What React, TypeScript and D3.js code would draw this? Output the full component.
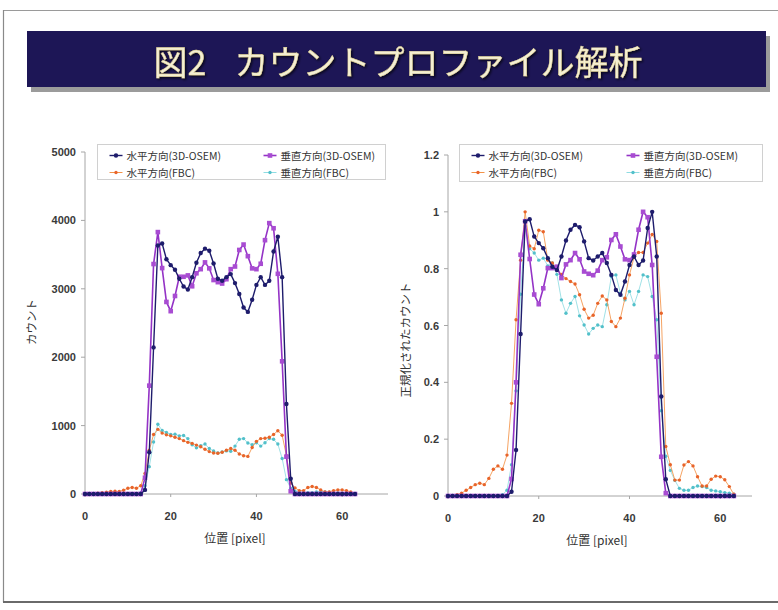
import React from 'react';
import * as d3 from 'd3';

// ---------- DATA ----------
const pixelPositions = d3.range(0, 64);
const xTickValues = [0, 20, 40, 60];
const leftYTicks = [0, 1000, 2000, 3000, 4000, 5000];
const rightYTicks = [0, 0.2, 0.4, 0.6, 0.8, 1, 1.2];
const seriesNames = ['水平方向(3D-OSEM)', '垂直方向(3D-OSEM)', '水平方向(FBC)', '垂直方向(FBC)'];
const titleText = '図2';
const titleText2 = 'カウントプロファイル解析';

// Left: counts
const leftH3D = [
  0,0,0,0,0,0,0,0,0,0,0,0,0,0,
  60,610,2143,3632,3662,3433,3346,3279,3147,3034,
  2989,3170,3380,3523,3587,3557,3369,3147,3117,3170,
  3215,3083,2925,2726,2662,2839,3057,3170,3057,3117,
  3546,3760,3170,1316,222,
  0,0,0,0,0,0,0,0,0,0,0,0,0,0,0,
];
const leftV3D = [
  0,0,0,0,0,0,0,0,0,0,0,0,0,0,
  238,1584,3362,3829,3303,2808,2673,2895,3176,3176,
  3196,3037,3227,3287,3386,3299,3128,3097,3077,3140,
  3287,3326,3568,3647,3477,3299,3287,3366,3711,3960,
  3885,3219,1940,546,40,
  0,0,0,0,0,0,0,0,0,0,0,0,0,0,0,
];
const leftHFBC = [
  0,0,5,10,18,27,36,40,36,55,
  85,95,85,120,300,640,870,945,890,865,
  850,830,810,780,755,740,715,690,655,620,
  600,595,610,640,665,640,585,560,550,680,
  770,810,815,830,870,925,860,560,160,90,
  50,50,95,110,95,60,30,30,50,60,
  60,50,30,5,
];
const leftVFBC = [
  0,0,0,0,0,0,0,0,0,0,
  0,0,5,20,120,400,760,1020,930,900,
  870,875,850,855,810,720,675,705,730,665,
  630,600,615,630,625,700,800,810,745,720,
  750,700,750,810,800,730,520,210,85,40,
  30,25,20,20,30,35,30,25,20,15,
  12,10,8,5,
];

// Right: normalized counts
const rightH3D = [
  0,0,0,0,0,0,0,0,0,0,0,0,0,0,
  0.015,0.162,0.57,0.966,0.974,0.913,0.89,0.872,0.837,0.807,
  0.795,0.843,0.899,0.937,0.954,0.946,0.896,0.837,0.829,0.843,
  0.855,0.82,0.778,0.725,0.708,0.755,0.813,0.843,0.813,0.829,
  0.943,1.0,0.843,0.35,0.059,
  0,0,0,0,0,0,0,0,0,0,0,0,0,0,0,
];
const rightV3D = [
  0,0,0,0,0,0,0,0,0,0,0,0,0,0,
  0.06,0.40,0.849,0.967,0.834,0.709,0.675,0.731,0.802,0.802,
  0.807,0.767,0.815,0.83,0.855,0.833,0.79,0.782,0.777,0.793,
  0.83,0.84,0.901,0.921,0.878,0.833,0.83,0.85,0.937,1.0,
  0.981,0.813,0.49,0.138,0.01,
  0,0,0,0,0,0,0,0,0,0,0,0,0,0,0,
];
const rightHFBC = [
  0,0,0.005,0.01,0.02,0.03,0.04,0.045,0.04,0.062,
  0.094,0.106,0.094,0.144,0.326,0.62,0.83,1.0,0.88,0.87,
  0.935,0.93,0.83,0.82,0.80,0.78,0.765,0.755,0.746,0.708,
  0.657,0.626,0.636,0.678,0.704,0.69,0.614,0.596,0.626,0.696,
  0.778,0.84,0.857,0.857,0.89,0.92,0.896,0.643,0.174,0.11,
  0.056,0.056,0.109,0.121,0.106,0.068,0.035,0.035,0.059,0.07,
  0.068,0.057,0.033,0.006,
];
const rightVFBC = [
  0,0,0,0,0,0,0,0,0,0,
  0,0,0.005,0.02,0.11,0.37,0.71,0.95,0.87,0.855,
  0.83,0.837,0.81,0.82,0.78,0.69,0.643,0.678,0.702,0.634,
  0.602,0.57,0.59,0.602,0.596,0.673,0.772,0.778,0.714,0.69,
  0.72,0.673,0.72,0.778,0.772,0.702,0.62,0.3,0.14,0.09,
  0.055,0.027,0.02,0.02,0.03,0.035,0.033,0.03,0.02,0.018,
  0.015,0.012,0.01,0.006,
];

// ---------- STYLES ----------
const seriesStyles = [
  { line: '#1e1c6c', fill: '#1e1c6c', marker: 'circle', size: 2.2, width: 1.4, opacity: 1 },
  { line: '#9433c6', fill: '#a84cd2', marker: 'square', size: 4.6, width: 1.6, opacity: 1 },
  { line: '#f39348', fill: '#e8642a', marker: 'circle', size: 1.7, width: 1.0, opacity: 0.85 },
  { line: '#8fdce2', fill: '#52c0ca', marker: 'circle', size: 1.7, width: 1.0, opacity: 0.85 },
];
const drawOrder = [3, 2, 1, 0];
const FONT = "'Liberation Sans', Arial, sans-serif";
const JFONT = "'Noto Sans CJK JP', 'Noto Sans', sans-serif";

function Marker({ cx, cy, s }: { cx: number; cy: number; s: any }) {
  if (s.marker === 'square') {
    return <rect x={cx - s.size / 2} y={cy - s.size / 2} width={s.size} height={s.size} fill={s.fill} />;
  }
  return <circle cx={cx} cy={cy} r={s.size} fill={s.fill} />;
}

type PanelProps = {
  series: number[][];
  xRange: [number, number];
  xDomainMax: number;
  yRange: [number, number];
  yDomainMax: number;
  yTicks: number[];
  yFormat: (v: number) => string;
  xAxisEnd: number;
  yTitle: string;
  yTitleX: number;
  yTitleY: number;
  xTitleX: number;
  legend: { x: number; y: number; w: number; h: number; col2: number };
};

function Panel(p: PanelProps) {
  const x = d3.scaleLinear().domain([0, p.xDomainMax]).range(p.xRange);
  const y = d3.scaleLinear().domain([0, p.yDomainMax]).range(p.yRange);
  const x0 = p.xRange[0];
  const y0 = p.yRange[0];
  const line = d3
    .line<number>()
    .x((_, i) => x(pixelPositions[i]))
    .y((d) => y(d));
  const legendRows = [
    [0, 1],
    [2, 3],
  ];
  return (
    <g>
      <line x1={x0} x2={x0} y1={p.yRange[1]} y2={y0} stroke="#a6a6a6" strokeWidth={1} />
      <line x1={x0} x2={p.xAxisEnd} y1={y0} y2={y0} stroke="#a6a6a6" strokeWidth={1} />
      {p.yTicks.map((t) => (
        <g key={'y' + t}>
          <line x1={x0 - 4} x2={x0} y1={y(t)} y2={y(t)} stroke="#a6a6a6" />
          <text
            x={x0 - 9}
            y={y(t)}
            textAnchor="end"
            dominantBaseline="central"
            fontFamily={FONT}
            fontWeight="bold"
            fontSize={11}
            fill="#3a3a3a"
          >
            {p.yFormat(t)}
          </text>
        </g>
      ))}
      {xTickValues.map((t) => (
        <g key={'x' + t}>
          <line x1={x(t)} x2={x(t)} y1={y0} y2={y0 + 3} stroke="#a6a6a6" />
          <text
            x={x(t)}
            y={y0 + 22}
            textAnchor="middle"
            dominantBaseline="central"
            fontFamily={FONT}
            fontWeight="bold"
            fontSize={11}
            fill="#3a3a3a"
          >
            {t}
          </text>
        </g>
      ))}
      <text
        x={p.xTitleX}
        y={y0 + 43}
        textAnchor="middle"
        dominantBaseline="central"
        fontFamily={JFONT}
        fontSize={12}
        fill="#333"
      >
        位置 [pixel]
      </text>
      <text
        transform={`translate(${p.yTitleX},${p.yTitleY}) rotate(-90)`}
        textAnchor="middle"
        dominantBaseline="central"
        fontFamily={JFONT}
        fontSize={11.5}
        fill="#333"
      >
        {p.yTitle}
      </text>
      {drawOrder.map((si) => {
        const s = seriesStyles[si];
        const data = p.series[si];
        return (
          <g key={'s' + si}>
            <path d={line(data) || ''} fill="none" stroke={s.line} strokeWidth={s.width} strokeOpacity={s.opacity} />
            {data.map((v, i) => (
              <Marker key={i} cx={x(pixelPositions[i])} cy={y(v)} s={s} />
            ))}
          </g>
        );
      })}
      <rect
        x={p.legend.x}
        y={p.legend.y}
        width={p.legend.w}
        height={p.legend.h}
        fill="#fff"
        stroke="#d0d0d0"
        strokeWidth={1}
      />
      {legendRows.map((row, ri) =>
        row.map((si, ci) => {
          const s = seriesStyles[si];
          const lx = p.legend.x + 12 + ci * p.legend.col2;
          const ly = p.legend.y + 11 + ri * 17;
          return (
            <g key={'l' + si}>
              <line x1={lx} x2={lx + 13} y1={ly} y2={ly} stroke={s.line} strokeWidth={s.width} />
              <Marker cx={lx + 6.5} cy={ly} s={s} />
              <text
                x={lx + 17}
                y={ly}
                dominantBaseline="central"
                fontFamily={JFONT}
                fontSize={10.5}
                fill="#333"
              >
                {seriesNames[si]}
              </text>
            </g>
          );
        })
      )}
    </g>
  );
}

export default function App() {
  return (
    <svg
      width={778}
      height={610}
      viewBox="0 0 778 610"
      style={{ position: 'absolute', left: 0, top: 0, background: '#fff' }}
    >
      <defs>
        <filter id="titleShadow" x="-5%" y="-20%" width="110%" height="140%">
          <feDropShadow dx="1.5" dy="1.5" stdDeviation="0.8" floodColor="#000" floodOpacity="0.7" />
        </filter>
      </defs>
      <rect x={0} y={0} width={778} height={610} fill="#fff" />
      <line x1={3} x2={778} y1={10.5} y2={10.5} stroke="#9a9a9a" strokeWidth={1} />
      <line x1={3.5} x2={3.5} y1={10} y2={602} stroke="#8a8a8a" strokeWidth={1.2} />
      <line x1={3} x2={778} y1={602} y2={602} stroke="#6a6a6a" strokeWidth={2} />
      <rect x={31} y={36} width={739} height={56} fill="#9b9b9b" />
      <rect x={27} y={31} width={739} height={56} fill="#1d1656" />
      <text
        x={398}
        y={60}
        textAnchor="middle"
        dominantBaseline="central"
        fontFamily={JFONT}
        fontSize={34}
        fill="#f4efd4"
        stroke="#e8d890"
        strokeWidth={0.4}
        filter="url(#titleShadow)"
      >
        {titleText}
        <tspan dx={28}>{titleText2}</tspan>
      </text>
      <Panel
        series={[leftH3D, leftV3D, leftHFBC, leftVFBC]}
        xRange={[85, 385]}
        xDomainMax={70}
        yRange={[494, 152]}
        yDomainMax={5000}
        yTicks={leftYTicks}
        yFormat={(v) => String(v)}
        xAxisEnd={388}
        yTitle="カウント"
        yTitleX={31}
        yTitleY={322}
        xTitleX={235}
        legend={{ x: 97.5, y: 144.5, w: 288, h: 35, col2: 154 }}
      />
      <Panel
        series={[rightH3D, rightV3D, rightHFBC, rightVFBC]}
        xRange={[448, 752]}
        xDomainMax={67}
        yRange={[496, 155]}
        yDomainMax={1.2}
        yTicks={rightYTicks}
        yFormat={(v) => String(+v.toFixed(1))}
        xAxisEnd={752}
        yTitle="正規化されたカウント"
        yTitleX={405}
        yTitleY={340}
        xTitleX={597}
        legend={{ x: 459.5, y: 144.5, w: 303, h: 37, col2: 155 }}
      />
    </svg>
  );
}
